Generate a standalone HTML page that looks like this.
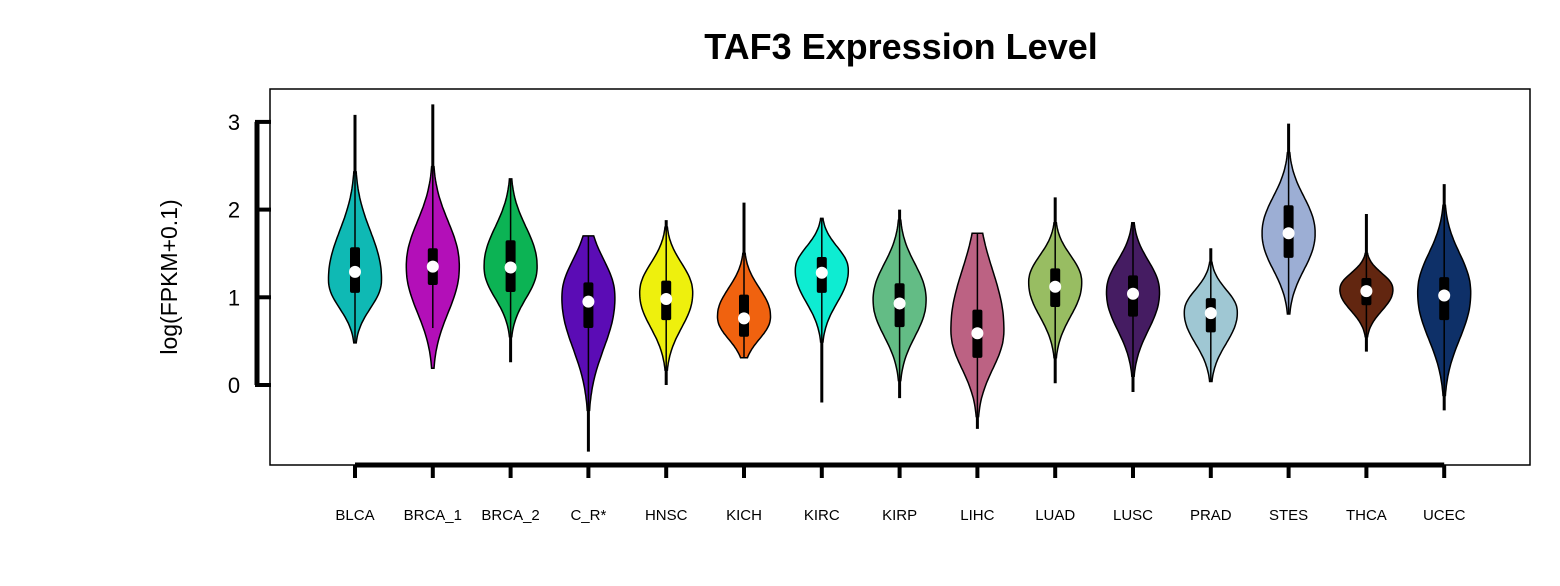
<!DOCTYPE html>
<html><head><meta charset="utf-8"><style>
html,body{margin:0;padding:0;background:#fff;}
svg{display:block;font-family:"Liberation Sans",Arial,sans-serif;}
</style></head><body>
<svg id="chart" width="1560" height="586" viewBox="0 0 1560 586" xmlns="http://www.w3.org/2000/svg">
<text x="901" y="59" text-anchor="middle" font-size="36" font-weight="bold">TAF3 Expression Level</text>
<rect x="270" y="89" width="1260" height="376" fill="none" stroke="#000" stroke-width="1.5"/>
<text transform="translate(177,277) rotate(-90)" text-anchor="middle" font-size="23">log(FPKM+0.1)</text>
<g id="violins"></g>
<g id="axes"></g>
</svg>
<script>
const categories=["BLCA","BRCA_1","BRCA_2","C_R*","HNSC","KICH","KIRC","KIRP","LIHC","LUAD","LUSC","PRAD","STES","THCA","UCEC"];
const colors=["#0fb9b4","#b30fb8","#0cb354","#5b0cb5","#eef00d","#f0620f","#0eecd2","#63bc85","#bc6283","#98bd62","#451c62","#9fc7d3","#9caed4","#622610","#0e3068"];
const medians=[1.29,1.35,1.34,0.95,0.98,0.76,1.28,0.93,0.59,1.12,1.04,0.82,1.73,1.07,1.02];
const q1=[1.05,1.14,1.06,0.65,0.74,0.55,1.05,0.66,0.31,0.89,0.78,0.60,1.45,0.91,0.74];
const q3=[1.57,1.56,1.65,1.17,1.19,1.03,1.46,1.16,0.86,1.33,1.25,0.99,2.05,1.22,1.23];
const whiskerLo=[0.48,0.65,0.26,-0.76,0.00,0.31,-0.20,-0.15,-0.50,0.02,-0.08,0.04,0.81,0.38,-0.29];
const whiskerHi=[3.08,3.20,2.35,1.70,1.88,2.08,1.90,2.00,1.73,2.14,1.85,1.56,2.98,1.95,2.29];
const violinLo=[0.48,0.19,0.55,-0.29,0.17,0.31,0.49,0.05,-0.36,0.31,0.10,0.04,0.81,0.55,-0.12];
const violinHi=[2.43,2.49,2.35,1.70,1.80,1.50,1.90,1.88,1.73,1.85,1.85,1.40,2.65,1.50,2.05];
const violinMode=[1.20,1.35,1.35,1.00,1.05,0.78,1.31,0.97,0.63,1.17,1.06,0.83,1.73,1.09,1.05];
const yTicks=[0,1,2,3];
const NS="http://www.w3.org/2000/svg";
const x0=355,dx=77.8,hw=26.5;
function xS(i){return x0+i*dx;}
function yS(v){return 385-v*87.7;}
const vg=document.getElementById('violins');
const ag=document.getElementById('axes');
function mk(tag,attrs,parent){const e=document.createElementNS(NS,tag);for(const k in attrs)e.setAttribute(k,attrs[k]);parent.appendChild(e);return e;}
categories.forEach((c,i)=>{
  const cx=xS(i),lo=violinLo[i],hi=violinHi[i],m=violinMode[i];
  const kTop=(c==="C_R*"||c==="LIHC")?1.7:2.3, kBot=(c==="KICH")?1.9:2.3;
  const sU=(hi-m)/kTop, sD=(m-lo)/kBot;
  const N=60,right=[],left=[];
  for(let j=0;j<=N;j++){
    const v=lo+(hi-lo)*j/N;
    const s=v>m?sU:sD;
    const z=Math.abs((v-m)/s);
    const w=hw*Math.exp(-0.5*Math.pow(z,2.2));
    right.push((cx+w).toFixed(1)+","+yS(v).toFixed(1));
    left.unshift((cx-w).toFixed(1)+","+yS(v).toFixed(1));
  }
  const g=mk('g',{},vg);
  
  
  const wl=mk('line',{x1:cx,x2:cx,y1:yS(whiskerLo[i]),y2:yS(whiskerHi[i]),stroke:'#000','stroke-width':3},g);
  
  
  const p=mk('polygon',{points:right.concat(left).join(' '),fill:colors[i],stroke:'#000','stroke-width':1.5},g);
  
  
  const il=mk('line',{x1:cx,x2:cx,y1:yS(Math.max(whiskerLo[i],lo)),y2:yS(Math.min(whiskerHi[i],hi)),stroke:'#000','stroke-width':1.5},g);
  
  
  const b=mk('rect',{x:cx-5,y:yS(q3[i]),width:10,height:yS(q1[i])-yS(q3[i]),rx:2,fill:'#000'},g);
  
  
  const d=mk('circle',{cx:cx,cy:yS(medians[i]),r:6,fill:'#fff'},g);
  
  
  const t=mk('text',{x:cx,y:520,'text-anchor':'middle','font-size':15},ag);
  t.textContent=c;
  
  
  const tk=mk('line',{x1:cx,x2:cx,y1:465,y2:478,stroke:'#000','stroke-width':4},ag);
  
  
});
const xa=mk('line',{x1:xS(0),x2:xS(categories.length-1),y1:465,y2:465,stroke:'#000','stroke-width':5},ag);


const ya=mk('line',{x1:257,x2:257,y1:yS(yTicks[yTicks.length-1]),y2:yS(yTicks[0]),stroke:'#000','stroke-width':5},ag);


yTicks.forEach(v=>{
  const t=mk('line',{x1:255,x2:271,y1:yS(v),y2:yS(v),stroke:'#000','stroke-width':4},ag);
  
  
  const l=mk('text',{x:234,y:yS(v)+8,'text-anchor':'middle','font-size':22},ag);
  l.textContent=v;
  
  
});
</script>
</body></html>
